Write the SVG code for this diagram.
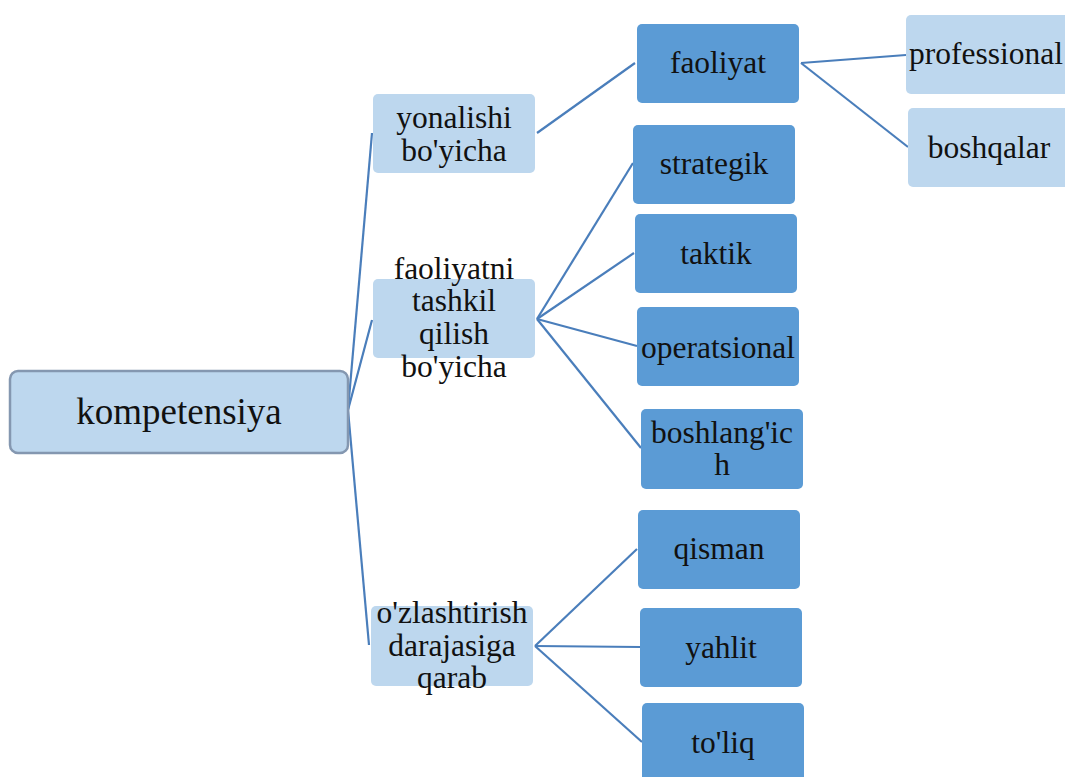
<svg xmlns="http://www.w3.org/2000/svg" width="1065" height="777" viewBox="0 0 1065 777">
<style>
.light{fill:#BDD7EE}
.dark{fill:#5B9BD5}
.root{fill:#BDD7EE;stroke:#8497B0;stroke-width:2.5}
text{font-family:"Liberation Serif","Times New Roman",serif;font-size:31.5px;fill:#111;text-anchor:middle}
.big{font-size:37px}
.conn line{stroke:#4A7EBB;stroke-width:2.2;fill:none}
</style>
<rect width="1065" height="777" fill="#fff"/>
<g class="conn">
<line x1="348" y1="410" x2="372" y2="133"/>
<line x1="348" y1="410" x2="372" y2="320"/>
<line x1="348" y1="410" x2="369" y2="645"/>
<line x1="537" y1="133" x2="635" y2="63"/>
<line x1="537" y1="319" x2="633" y2="163"/>
<line x1="537" y1="319" x2="634" y2="253"/>
<line x1="537" y1="319" x2="637" y2="346"/>
<line x1="537" y1="319" x2="641" y2="448"/>
<line x1="535" y1="646" x2="637" y2="549"/>
<line x1="535" y1="646" x2="640" y2="647"/>
<line x1="535" y1="646" x2="642" y2="742"/>
<line x1="801" y1="63" x2="906" y2="55"/>
<line x1="801" y1="63" x2="908" y2="147"/>
</g>
<g id="root"><rect class="root" x="10" y="371" width="338" height="82" rx="8"/><text class="big" x="179" y="424">kompetensiya</text></g>
<g id="n-yonalishi"><rect class="light" x="373" y="94" width="162" height="79" rx="5"/><text x="454" y="128">yonalishi</text><text x="454" y="161">bo'yicha</text></g>
<g id="n-faoliyatni"><rect class="light" x="373" y="279" width="162" height="79" rx="5"/><text x="454" y="279">faoliyatni</text><text x="454" y="311">tashkil</text><text x="454" y="344">qilish</text><text x="454" y="377">bo'yicha</text></g>
<g id="n-ozlashtirish"><rect class="light" x="371" y="606" width="162" height="80" rx="5"/><text x="452" y="623">o'zlashtirish</text><text x="452" y="656">darajasiga</text><text x="452" y="688">qarab</text></g>
<g id="n-faoliyat"><rect class="dark" x="637" y="24" width="162" height="79" rx="5"/><text x="718" y="73">faoliyat</text></g>
<g id="n-strategik"><rect class="dark" x="633" y="125" width="162" height="79" rx="5"/><text x="714" y="174">strategik</text></g>
<g id="n-taktik"><rect class="dark" x="635" y="214" width="162" height="79" rx="5"/><text x="716" y="264">taktik</text></g>
<g id="n-operatsional"><rect class="dark" x="637" y="307" width="162" height="79" rx="5"/><text x="718" y="358">operatsional</text></g>
<g id="n-boshlangich"><rect class="dark" x="641" y="409" width="162" height="80" rx="5"/><text x="722" y="443">boshlang'ic</text><text x="722" y="475">h</text></g>
<g id="n-qisman"><rect class="dark" x="638" y="510" width="162" height="79" rx="5"/><text x="719" y="559">qisman</text></g>
<g id="n-yahlit"><rect class="dark" x="640" y="608" width="162" height="79" rx="5"/><text x="721" y="658">yahlit</text></g>
<g id="n-toliq"><rect class="dark" x="642" y="703" width="162" height="79" rx="5"/><text x="723" y="753">to'liq</text></g>
<g id="n-professional"><rect class="light" x="906" y="15" width="165" height="79" rx="5"/><text x="986" y="64">professional</text></g>
<g id="n-boshqalar"><rect class="light" x="908" y="108" width="165" height="79" rx="5"/><text x="989" y="158">boshqalar</text></g>
</svg>
